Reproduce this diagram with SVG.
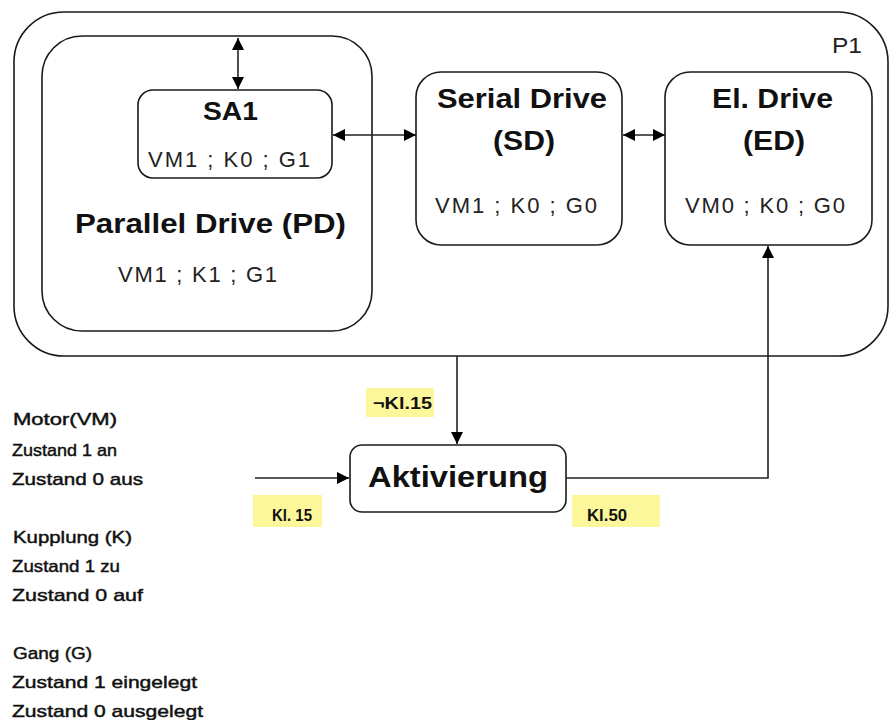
<svg xmlns="http://www.w3.org/2000/svg" width="890" height="720" viewBox="0 0 890 720">
  <style>
    .box { fill: #ffffff; stroke: #1a1a1a; stroke-width: 1.6; }
    .frame { fill: none; stroke: #1a1a1a; stroke-width: 1.6; }
    .wire { fill: none; stroke: #222222; stroke-width: 1.6; }
    .title { font-family: "Liberation Sans", Arial, sans-serif; font-weight: bold; fill: #111111; }
    .state { font-family: "Liberation Sans", Arial, sans-serif; font-size: 22px; fill: #222222; }
    .legend { font-family: "Liberation Sans", Arial, sans-serif; font-size: 17px; fill: #111111; stroke: #111111; stroke-width: 0.45; }
    .tag { fill: #fdf79b; }
    .tagtext { font-family: "Liberation Sans", Arial, sans-serif; font-size: 16px; font-weight: bold; fill: #111111; }
  </style>
  <defs>
    <marker id="arrowEnd" viewBox="0 0 10 10" refX="10" refY="5" markerWidth="13" markerHeight="12" markerUnits="userSpaceOnUse" orient="auto">
      <path d="M0,0 L10,5 L0,10 z" fill="#000000"/>
    </marker>
    <marker id="arrowStart" viewBox="0 0 10 10" refX="0" refY="5" markerWidth="13" markerHeight="12" markerUnits="userSpaceOnUse" orient="auto">
      <path d="M10,0 L0,5 L10,10 z" fill="#000000"/>
    </marker>
  </defs>

  <!-- P1 outer frame -->
  <g id="p1">
    <rect class="frame" x="14" y="12" width="874" height="344" rx="50" ry="50"/>
    <text class="state" x="832" y="53" font-size="30" font-weight="300" textLength="30" lengthAdjust="spacingAndGlyphs">P1</text>
  </g>

  <!-- Parallel Drive -->
  <g id="pd">
    <rect class="box" x="42" y="36" width="330" height="295" rx="40" ry="40"/>
    <text class="title" x="75" y="233" font-size="27" textLength="271" lengthAdjust="spacingAndGlyphs">Parallel Drive (PD)</text>
    <text class="state" x="118" y="282" textLength="159" lengthAdjust="spacing">VM1 ; K1 ; G1</text>
  </g>

  <!-- SA1 -->
  <g id="sa1">
    <rect class="box" x="138" y="90" width="194" height="88" rx="15" ry="15"/>
    <text class="title" x="203" y="120" font-size="25" textLength="55" lengthAdjust="spacingAndGlyphs">SA1</text>
    <text class="state" x="148" y="167" textLength="162" lengthAdjust="spacing">VM1 ; K0 ; G1</text>
  </g>

  <!-- Serial Drive -->
  <g id="sd">
    <rect class="box" x="416" y="72" width="206" height="173" rx="25" ry="25"/>
    <text class="title" x="437" y="108" font-size="27" textLength="170" lengthAdjust="spacingAndGlyphs">Serial Drive</text>
    <text class="title" x="493" y="150" font-size="27" textLength="62" lengthAdjust="spacingAndGlyphs">(SD)</text>
    <text class="state" x="435" y="213" textLength="162" lengthAdjust="spacing">VM1 ; K0 ; G0</text>
  </g>

  <!-- Electric Drive -->
  <g id="ed">
    <rect class="box" x="665" y="72" width="207" height="173" rx="25" ry="25"/>
    <text class="title" x="712" y="108" font-size="27" textLength="121" lengthAdjust="spacingAndGlyphs">El. Drive</text>
    <text class="title" x="743" y="150" font-size="27" textLength="62" lengthAdjust="spacingAndGlyphs">(ED)</text>
    <text class="state" x="685" y="213" textLength="160" lengthAdjust="spacing">VM0 ; K0 ; G0</text>
  </g>

  <!-- Activation -->
  <g id="aktivierung">
    <rect class="box" x="350" y="445" width="216" height="67" rx="12" ry="12"/>
    <text class="title" x="368" y="487" font-size="30" textLength="180" lengthAdjust="spacingAndGlyphs">Aktivierung</text>
  </g>

  <!-- Terminal labels -->
  <g id="tag-not-kl15">
    <rect class="tag" x="366" y="388" width="68" height="29"/>
    <text class="tagtext" x="373" y="409" font-size="14" textLength="59" lengthAdjust="spacingAndGlyphs">¬Kl.15</text>
  </g>
  <g id="tag-kl15">
    <rect class="tag" x="253" y="495" width="69" height="32"/>
    <text class="tagtext" x="272" y="521" textLength="40" lengthAdjust="spacingAndGlyphs">Kl. 15</text>
  </g>
  <g id="tag-kl50">
    <rect class="tag" x="572" y="495" width="88" height="32"/>
    <text class="tagtext" x="587" y="521" textLength="40" lengthAdjust="spacingAndGlyphs">Kl.50</text>
  </g>

  <!-- Connectors -->
  <g id="connectors">
    <line class="wire" x1="238" y1="38" x2="238" y2="89" marker-start="url(#arrowStart)" marker-end="url(#arrowEnd)"/>
    <line class="wire" x1="333" y1="135" x2="416" y2="135" marker-start="url(#arrowStart)" marker-end="url(#arrowEnd)"/>
    <line class="wire" x1="623" y1="135" x2="665" y2="135" marker-start="url(#arrowStart)" marker-end="url(#arrowEnd)"/>
    <line class="wire" x1="457" y1="356" x2="457" y2="444" marker-end="url(#arrowEnd)"/>
    <line class="wire" x1="255" y1="478" x2="349" y2="478" marker-end="url(#arrowEnd)"/>
    <polyline class="wire" points="566,478 768,478 768,246" marker-end="url(#arrowEnd)"/>
  </g>

  <!-- Legend -->
  <g id="legend">
    <text class="legend" x="13" y="425" textLength="104" lengthAdjust="spacingAndGlyphs">Motor(VM)</text>
    <text class="legend" x="12" y="456" textLength="105" lengthAdjust="spacingAndGlyphs">Zustand 1 an</text>
    <text class="legend" x="12" y="485" textLength="131" lengthAdjust="spacingAndGlyphs">Zustand 0 aus</text>
    <text class="legend" x="13" y="543" textLength="119" lengthAdjust="spacingAndGlyphs">Kupplung (K)</text>
    <text class="legend" x="12" y="572" textLength="108" lengthAdjust="spacingAndGlyphs">Zustand 1 zu</text>
    <text class="legend" x="12" y="601" textLength="131" lengthAdjust="spacingAndGlyphs">Zustand 0 auf</text>
    <text class="legend" x="13" y="659" textLength="79" lengthAdjust="spacingAndGlyphs">Gang (G)</text>
    <text class="legend" x="12" y="688" textLength="185" lengthAdjust="spacingAndGlyphs">Zustand 1 eingelegt</text>
    <text class="legend" x="12" y="717" textLength="191" lengthAdjust="spacingAndGlyphs">Zustand 0 ausgelegt</text>
  </g>
</svg>
